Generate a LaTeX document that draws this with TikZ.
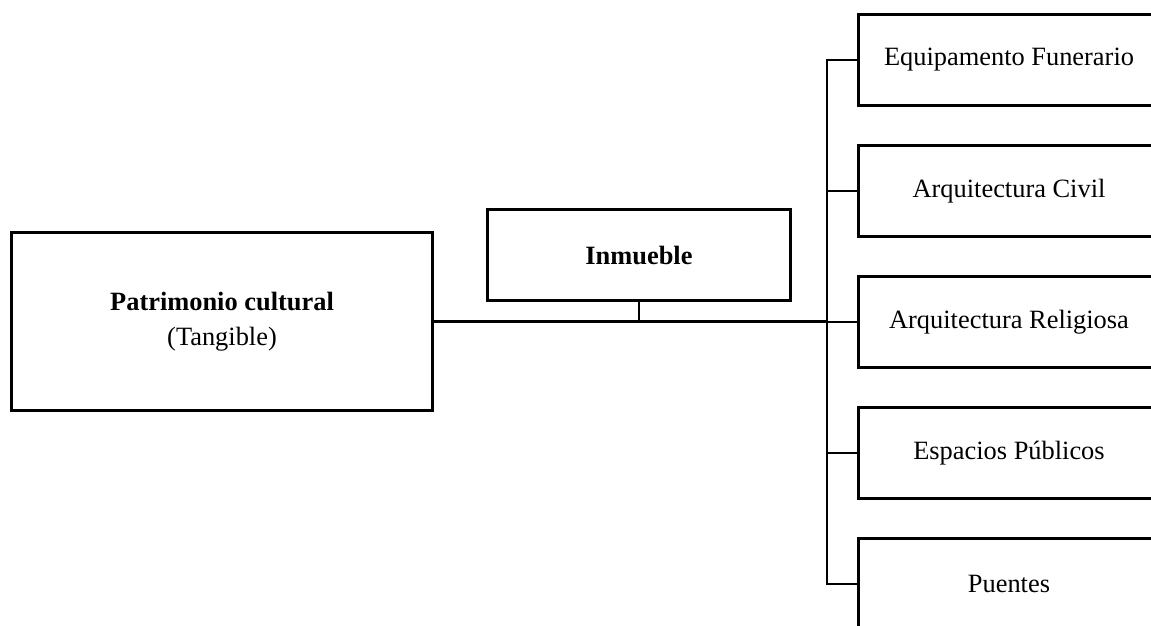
\documentclass[tikz,border=0pt]{standalone}
\usepackage{fontspec}
\setmainfont{Liberation Serif}
\begin{document}
\begin{tikzpicture}[x=1pt,y=-1pt,
  box/.style={draw, line width=3.4pt, inner sep=0pt, align=center,
    font=\fontsize{26.4}{35}\selectfont},
  rbox/.style={box, minimum width=300.5pt, minimum height=90.5pt},
  conn/.style={draw, line width=2.2pt}]
\clip (0,0) rectangle (1151,625);
\node[box, minimum width=420.5pt, minimum height=177.5pt] (pc) at (222,321.5)
  {\textbf{Patrimonio cultural}\\(Tangible)};
\node[box, minimum width=302.5pt, minimum height=90.5pt] (inm) at (639,255)
  {\textbf{Inmueble}};
\node[rbox] (b1) at (1009,60) {Equipamento Funerario};
\node[rbox] (b2) at (1009,191) {Arquitectura Civil};
\node[rbox] (b3) at (1009,322) {Arquitectura Religiosa};
\node[rbox] (b4) at (1009,453) {Espacios Públicos};
\node[rbox] (b5) at (1009,584) {Puentes};
\coordinate (bus) at (827,322);
\draw[conn] (b1.west) -- (b1.west -| bus) -- (b5.west -| bus) -- (b5.west);
\draw[conn] (b2.west -| bus) -- (b2.west);
\draw[conn] (b3.west -| bus) -- (b3.west);
\draw[conn] (b4.west -| bus) -- (b4.west);
\draw[conn] (pc.east) -- (pc.east -| bus);
\draw[conn] (inm.south) -- (inm.south |- pc.east);
\end{tikzpicture}
\end{document}
